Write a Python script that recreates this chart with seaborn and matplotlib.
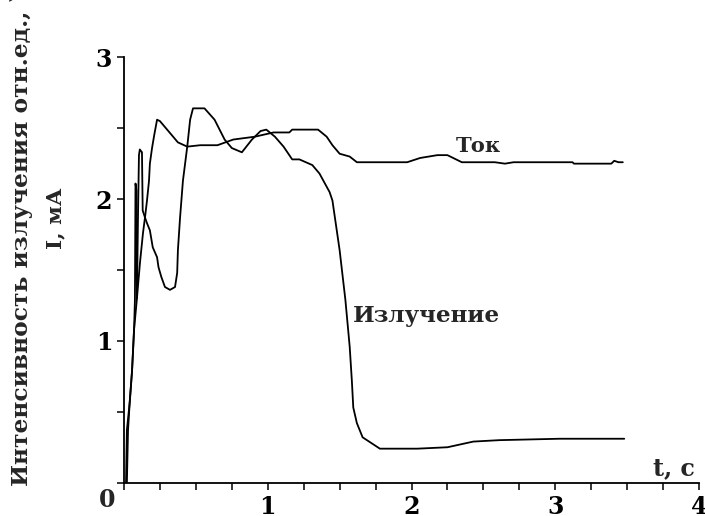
import numpy as np
import pandas as pd
import matplotlib
matplotlib.use("Agg")
import matplotlib.pyplot as plt
import seaborn as sns
from matplotlib.ticker import MultipleLocator, FixedLocator

# --- data ---
tok_t = [0.014, 0.02, 0.04, 0.056, 0.07, 0.076, 0.080, 0.087, 0.090, 0.111, 0.132,
         0.146, 0.16, 0.174, 0.18, 0.195, 0.21, 0.23, 0.25, 0.30, 0.375, 0.44, 0.53,
         0.65, 0.76, 0.91, 1.04, 1.15, 1.17, 1.35, 1.41, 1.45, 1.50, 1.57, 1.62,
         1.97, 2.06, 2.18, 2.25, 2.29, 2.35, 2.58, 2.65, 2.71, 3.12, 3.13, 3.39,
         3.41, 3.44, 3.47]
tok_v = [0.0, 0.37, 0.57, 0.79, 1.08, 1.29, 2.11, 2.06, 1.30, 1.55, 1.76,
         1.87, 1.99, 2.13, 2.25, 2.36, 2.45, 2.56, 2.55, 2.49, 2.40, 2.37, 2.38,
         2.38, 2.42, 2.44, 2.47, 2.47, 2.49, 2.49, 2.44, 2.38, 2.32, 2.30, 2.26,
         2.26, 2.29, 2.31, 2.31, 2.29, 2.26, 2.26, 2.25, 2.26, 2.26, 2.25, 2.25,
         2.27, 2.26, 2.26]

izl_t = [0.02, 0.028, 0.04, 0.056, 0.07, 0.09, 0.097, 0.104, 0.11, 0.125, 0.13,
         0.146, 0.16, 0.18, 0.20, 0.23, 0.24, 0.26, 0.285, 0.32, 0.355, 0.37,
         0.375, 0.39, 0.41, 0.44, 0.46, 0.48, 0.56, 0.63, 0.70, 0.75, 0.82, 0.89,
         0.95, 0.99, 1.05, 1.11, 1.17, 1.22, 1.31, 1.36, 1.43, 1.45, 1.50, 1.54,
         1.57, 1.585, 1.595, 1.62, 1.66, 1.78, 2.04, 2.25, 2.43, 2.61, 3.03, 3.48]
izl_v = [0.0, 0.37, 0.57, 0.79, 1.08, 1.30, 1.85, 2.31, 2.35, 2.33, 1.92,
         1.87, 1.83, 1.78, 1.66, 1.59, 1.52, 1.45, 1.38, 1.36, 1.38, 1.48,
         1.64, 1.87, 2.13, 2.37, 2.56, 2.64, 2.64, 2.56, 2.42, 2.36, 2.33, 2.42,
         2.48, 2.49, 2.44, 2.37, 2.28, 2.28, 2.24, 2.18, 2.05, 1.99, 1.64, 1.29,
         0.96, 0.72, 0.53, 0.42, 0.32, 0.24, 0.24, 0.25, 0.29, 0.30, 0.31, 0.31]

series_names = ["Ток", "Излучение"]
x_ticks = [0, 1, 2, 3, 4]
x_tick_labels = ["", "1", "2", "3", "4"]
y_ticks = [0, 1, 2, 3]
y_tick_labels = ["", "1", "2", "3"]
x_label = "t, c"
y_label_1 = "Интенсивность излучения отн.ед.,"
y_label_2 = "I, мА"

df = pd.concat([
    pd.DataFrame({"t": tok_t, "v": tok_v, "s": series_names[0]}),
    pd.DataFrame({"t": izl_t, "v": izl_v, "s": series_names[1]}),
], ignore_index=True)

sns.set_theme(style="ticks")
FONT = ["DejaVu Serif", "Liberation Serif"]
plt.rcParams["font.family"] = FONT
plt.rcParams["font.weight"] = "bold"

fig = plt.figure(figsize=(7.05, 5.16), dpi=100)
W, H = 705, 516
ax = fig.add_axes([124 / W, 33.3 / H, 575 / W, 425.4 / H])

sns.lineplot(data=df, x="t", y="v", units="s", estimator=None, sort=False,
             color="black", linewidth=1.3, ax=ax, legend=False)

ax.set_xlim(0, 4)
ax.set_ylim(0, 3)
sns.despine(ax=ax)
for sp in ["left", "bottom"]:
    ax.spines[sp].set_linewidth(1.3)
    ax.spines[sp].set_color("black")

TICK_FS = 17
ax.xaxis.set_major_locator(FixedLocator(x_ticks))
ax.set_xticklabels(x_tick_labels)
ax.yaxis.set_major_locator(FixedLocator(y_ticks))
ax.set_yticklabels(y_tick_labels)
ax.xaxis.set_minor_locator(MultipleLocator(0.25))
ax.yaxis.set_minor_locator(MultipleLocator(0.5))
ax.tick_params(which="both", direction="out", length=5, width=1.1, color="black",
               labelsize=TICK_FS, labelcolor="black")
ax.tick_params(axis="x", pad=3.5)
ax.tick_params(axis="y", pad=3.5)
for lab in ax.get_xticklabels() + ax.get_yticklabels():
    lab.set_fontweight("bold")
ax.set_xlabel("")
ax.set_ylabel("")

renderer = fig.canvas.get_renderer()


def fit(txt, target_px, horizontal=True):
    bb = txt.get_window_extent(renderer=renderer)
    cur = bb.width if horizontal else bb.height
    txt.set_fontsize(txt.get_fontsize() * target_px / cur)


# corner zero
ax.text(-9 / 575, -(500 - 482.7) / 425.4, "0", transform=ax.transAxes,
        ha="right", va="center", fontsize=TICK_FS, fontweight="bold")

# axis label "t, c"
t_x = ax.text(3.97, 0.055, x_label, ha="right", va="baseline", fontsize=16,
              fontweight="bold")
fit(t_x, 42)

# series annotations
t_tok = ax.text(2.31, 2.33, series_names[0], ha="left", va="baseline",
                fontsize=17, fontweight="bold")
fit(t_tok, 45)
t_izl = ax.text(1.59, 1.13, series_names[1], ha="left", va="baseline",
                fontsize=17, fontweight="bold")
fit(t_izl, 147)

# y label, two lines
yl1 = fig.text(22 / W, 1 - 248 / H, y_label_1, rotation=90, ha="center",
               va="center", fontsize=17, fontweight="bold")
fit(yl1, 475, horizontal=False)
fig.text(55 / W, 1 - 218 / H, y_label_2, rotation=90, ha="center",
         va="center", fontsize=yl1.get_fontsize() * 0.92, fontweight="bold")

# fragment of a cut-off label at the top-left corner
fig.text(8 / W, 1 + 2 / H, ")", ha="left", va="baseline", fontsize=17,
         fontweight="bold")

fig.savefig("out.png", dpi=100, facecolor="white")
